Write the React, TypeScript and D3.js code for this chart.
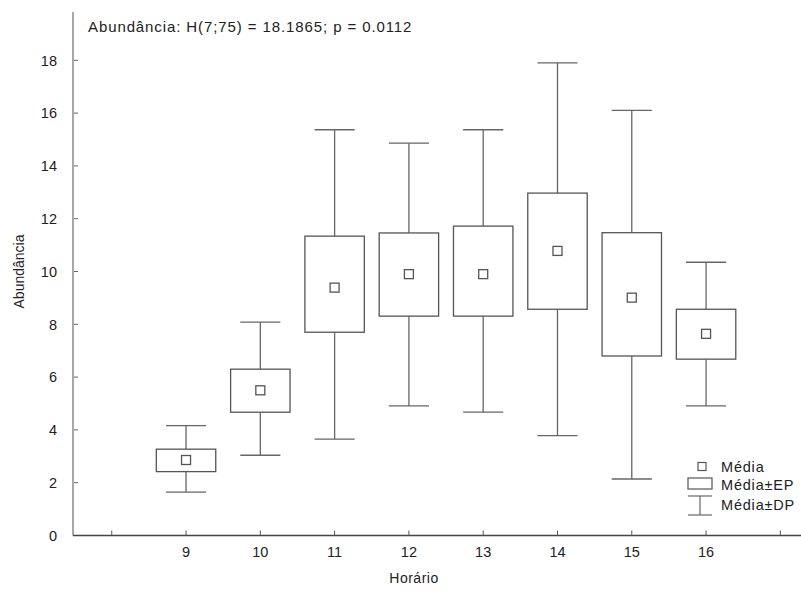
import React from "react";
import * as d3 from "d3";

// hours (x categories)
const hours = [9, 10, 11, 12, 13, 14, 15, 16];
// mean abundance
const means = [2.86, 5.5, 9.39, 9.9, 9.9, 10.78, 9.01, 7.64];
// mean +- standard error (box)
const epLow = [2.42, 4.67, 7.7, 8.31, 8.31, 8.57, 6.8, 6.68];
const epHigh = [3.27, 6.3, 11.34, 11.46, 11.72, 12.97, 11.47, 8.57];
// mean +- standard deviation (whiskers)
const dpLow = [1.64, 3.04, 3.65, 4.91, 4.67, 3.78, 2.14, 4.91];
const dpHigh = [4.16, 8.08, 15.37, 14.86, 15.37, 17.9, 16.1, 10.35];

const xTicks = [8, 9, 10, 11, 12, 13, 14, 15, 16, 17];
const xLabels = ["", "9", "10", "11", "12", "13", "14", "15", "16", ""];
const yTicks = [0, 2, 4, 6, 8, 10, 12, 14, 16, 18];

const title = "Abundância: H(7;75) = 18.1865; p = 0.0112";
const font = "'Liberation Sans', Arial, sans-serif";

export default function App() {
    const W = 801, H = 595;
    const x = d3.scaleLinear().domain([7.5, 17.5]).range([74.6, 817.5]);
    const y = d3.scaleLinear().domain([0, 19.83]).range([535.5, 12]);
    const boxHalf = 0.4;
    const capHalf = 0.27;
    const stroke = "#555";

    return (
        <svg width={W} height={H} style={{ position: "absolute", left: 0, top: 0, background: "#fff" }}
            fontFamily={font}>
            <rect x={0} y={0} width={W} height={H} fill="#fff" />

            {/* title */}
            <text x={88} y={32} fontSize={15} letterSpacing={0.9} fill="#222">{title}</text>

            {/* y axis */}
            <line x1={73} x2={73} y1={y(0)} y2={12} stroke="#a8a8a8" strokeWidth={2} />
            {yTicks.map(t => (
                <g key={"yt" + t}>
                    {t > 0 && <line x1={74} x2={78} y1={y(t)} y2={y(t)} stroke="#666" strokeWidth={1} />}
                    <text x={57} y={y(t)} dy="0.36em" textAnchor="end" fontSize={14.5} fill="#222">{t}</text>
                </g>
            ))}
            <text transform={`translate(24, ${y(10)}) rotate(-90)`} textAnchor="middle" fontSize={14} fill="#222">Abundância</text>

            {/* x axis */}
            <line x1={73} x2={W} y1={y(0)} y2={y(0)} stroke="#444" strokeWidth={1.4} />
            {xTicks.map((t, i) => (
                <g key={"xt" + t}>
                    <line x1={x(t)} x2={x(t)} y1={y(0)} y2={y(0) - 5} stroke="#555" strokeWidth={1} />
                    <text x={x(t)} y={557} textAnchor="middle" fontSize={14.5} fill="#222">{xLabels[i]}</text>
                </g>
            ))}
            <text x={414} y={583} textAnchor="middle" fontSize={14} letterSpacing={0.5} fill="#222">Horário</text>

            {/* whiskers, boxes, means */}
            {hours.map((h, i) => (
                <g key={"b" + h}>
                    <line x1={x(h)} x2={x(h)} y1={y(dpHigh[i])} y2={y(epHigh[i])} stroke="#666" strokeWidth={1.3} />
                    <line x1={x(h)} x2={x(h)} y1={y(epLow[i])} y2={y(dpLow[i])} stroke="#666" strokeWidth={1.3} />
                    <line x1={x(h - capHalf)} x2={x(h + capHalf)} y1={y(dpHigh[i])} y2={y(dpHigh[i])} stroke="#666" strokeWidth={1.3} />
                    <line x1={x(h - capHalf)} x2={x(h + capHalf)} y1={y(dpLow[i])} y2={y(dpLow[i])} stroke="#666" strokeWidth={1.3} />
                    <rect x={x(h - boxHalf)} y={y(epHigh[i])} width={x(h + boxHalf) - x(h - boxHalf)}
                        height={y(epLow[i]) - y(epHigh[i])} fill="#fff" stroke={stroke} strokeWidth={1.3} />
                    <rect x={x(h) - 4.5} y={y(means[i]) - 4.5} width={9} height={9} fill="#fff" stroke={stroke} strokeWidth={1.3} />
                </g>
            ))}

            {/* legend */}
            <g>
                <rect x={698} y={462.5} width={8} height={8} fill="#fff" stroke={stroke} strokeWidth={1.2} />
                <text x={721} y={471.5} fontSize={14.5} letterSpacing={0.8} fill="#222">Média</text>
                <rect x={688} y={478} width={24} height={11} fill="#fff" stroke={stroke} strokeWidth={1.2} />
                <text x={721} y={490} fontSize={14.5} letterSpacing={0.8} fill="#222">Média±EP</text>
                <line x1={688} x2={712} y1={496} y2={496} stroke="#666" strokeWidth={1.2} />
                <line x1={700} x2={700} y1={496} y2={515} stroke="#666" strokeWidth={1.2} />
                <line x1={688} x2={712} y1={515} y2={515} stroke="#666" strokeWidth={1.2} />
                <text x={721} y={510} fontSize={14.5} letterSpacing={0.8} fill="#222">Média±DP</text>
            </g>
        </svg>
    );
}
